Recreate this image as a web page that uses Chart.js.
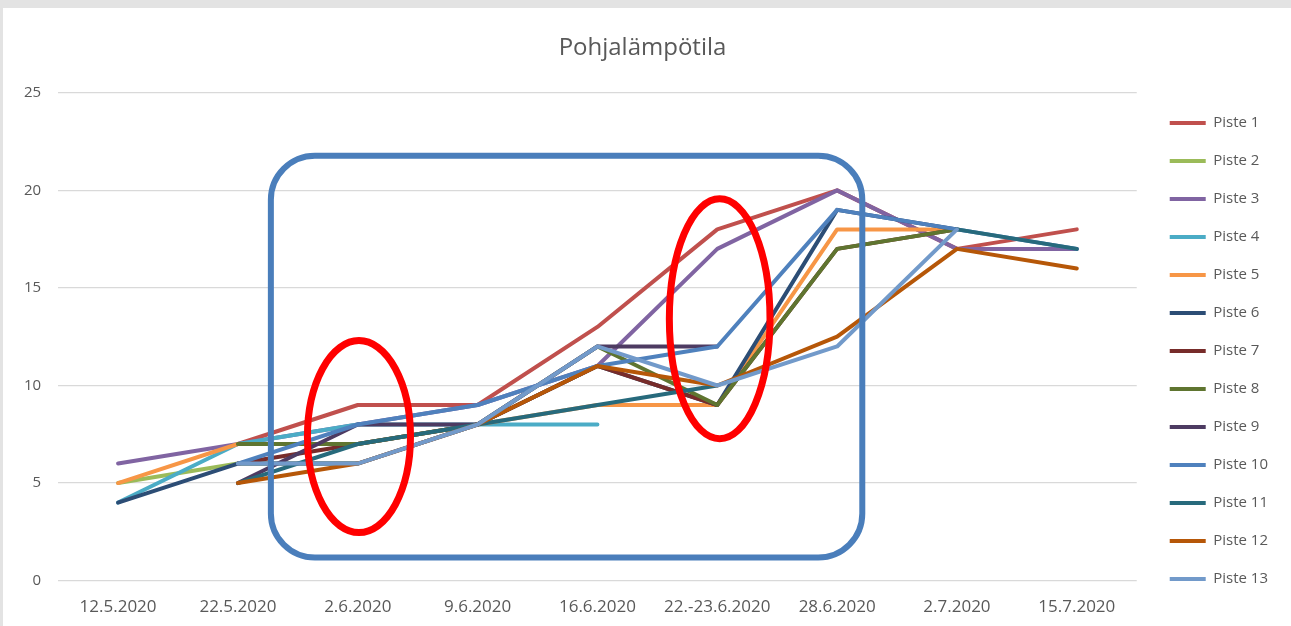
<!DOCTYPE html>
<html>
<head>
<meta charset="utf-8">
<script src="https://cdn.jsdelivr.net/npm/chart.js@4/dist/chart.umd.min.js"></script>
<style>
  html, body { margin: 0; padding: 0; background: #e3e3e3; }
  #frame { position: absolute; left: 3px; top: 8px; width: 1288px; height: 618px; background: #fff; }
</style>
</head>
<body>
<div id="frame"><canvas id="chart" width="1288" height="618"></canvas></div>
<script>
/* Data */
const categories = ['12.5.2020', '22.5.2020', '2.6.2020', '9.6.2020', '16.6.2020', '22.-23.6.2020', '28.6.2020', '2.7.2020', '15.7.2020'];
const seriesNames = ['Piste 1', 'Piste 2', 'Piste 3', 'Piste 4', 'Piste 5', 'Piste 6', 'Piste 7', 'Piste 8', 'Piste 9', 'Piste 10', 'Piste 11', 'Piste 12', 'Piste 13'];
const piste1 = [null, 7, 9, 9, 13, 18, 20, 17, 18];
const piste2 = [5, 6, 6, null, null, null, null, null, null];
const piste3 = [6, 7, 8, 9, 11, 17, 20, 17, 17];
const piste4 = [4, 7, 8, 8, 8, null, null, null, null];
const piste5 = [5, 7, 7, 8, 9, 9, 18, 18, null];
const piste6 = [4, 6, 6, 8, 11, 9, 19, 18, null];
const piste7 = [null, 6, 7, 8, 11, 9, 17, 18, null];
const piste8 = [null, 7, 7, 8, 12, 9, 17, 18, null];
const piste9 = [null, 5, 8, 8, 12, 12, null, null, null];
const piste10 = [null, 6, 8, 9, 11, 12, 19, 18, 17];
const piste11 = [null, 5, 7, 8, 9, 10, null, 18, 17];
const piste12 = [null, 5, 6, 8, 11, 10, 12.5, 17, 16];
const piste13 = [null, 6, 6, 8, 12, 10, 12, 18, null];
const yTicks = [0, 5, 10, 15, 20, 25];

/* Merkinnät (kategoria-indeksi / arvo) */
const boxX = [1.275, 6.21];
const boxY = [1.18, 21.77];
const ellipse1 = [2.01, 7.38, 0.43, 4.92];
const ellipse2 = [5.02, 13.42, 0.42, 6.15];

const colors = ['#C0504D', '#9BBB59', '#8064A2', '#4BACC6', '#F79646', '#2C4D75', '#772C2A', '#5F7530', '#4D3B62', '#4F81BD', '#276A7C', '#B65708', '#729ACA'];
const values = [piste1, piste2, piste3, piste4, piste5, piste6, piste7, piste8, piste9, piste10, piste11, piste12, piste13];

const FONT = '"Open Sans", "Noto Sans", sans-serif';

const annotations = {
  id: 'annotations',
  afterDatasetsDraw(chart) {
    const { ctx, scales: { x, y } } = chart;
    ctx.save();
    // sininen laatikko
    const x0 = x.getPixelForValue(boxX[0]), x1 = x.getPixelForValue(boxX[1]);
    const y0 = y.getPixelForValue(boxY[1]), y1 = y.getPixelForValue(boxY[0]);
    ctx.beginPath();
    ctx.roundRect(x0, y0, x1 - x0, y1 - y0, 44);
    ctx.lineWidth = 6;
    ctx.strokeStyle = '#4A7EBB';
    ctx.stroke();
    // punaiset ellipsit
    [ellipse1, ellipse2].forEach(e => {
      const cx = x.getPixelForValue(e[0]);
      const cy = y.getPixelForValue(e[1]);
      const rx = Math.abs(x.getPixelForValue(e[0] + e[2]) - cx);
      const ry = Math.abs(y.getPixelForValue(e[1] + e[3]) - cy);
      ctx.beginPath();
      ctx.ellipse(cx, cy, rx, ry, 0, 0, Math.PI * 2);
      ctx.lineWidth = 7;
      ctx.strokeStyle = '#FF0000';
      ctx.stroke();
    });
    ctx.restore();
  }
};

new Chart(document.getElementById('chart').getContext('2d'), {
  type: 'line',
  data: {
    labels: categories,
    datasets: seriesNames.map((name, i) => ({
      label: name,
      data: values[i],
      borderColor: colors[i],
      backgroundColor: colors[i],
      borderWidth: 4,
      borderCapStyle: 'round',
      borderJoinStyle: 'round',
      pointRadius: 0,
      pointHoverRadius: 0,
      spanGaps: false,
      tension: 0,
      order: seriesNames.length - i
    }))
  },
  options: {
    responsive: false,
    animation: false,
    layout: { padding: { left: 4, right: 13, bottom: -7 } },
    plugins: {
      title: {
        display: true,
        text: 'Pohjalämpötila',
        color: '#595959',
        font: { family: FONT, size: 24, weight: 'normal' },
        padding: { top: 26, bottom: 30 }
      },
      legend: {
        position: 'right',
        align: 'start',
        title: { display: true, text: ' ', font: { size: 12 }, padding: { top: 70, bottom: 0 } },
        labels: {
          sort: (a, b) => a.datasetIndex - b.datasetIndex,
          usePointStyle: true,
          pointStyle: 'line',
          pointStyleWidth: 36,
          color: '#595959',
          font: { family: FONT, size: 15 },
          padding: 23
        }
      },
      tooltip: { enabled: false }
    },
    scales: {
      x: {
        offset: true,
        grid: { display: false, drawTicks: false },
        border: { display: false },
        ticks: { color: '#595959', font: { family: FONT, size: 17 }, padding: 16, maxRotation: 0 }
      },
      y: {
        min: 0,
        max: 25,
        afterBuildTicks: s => { s.ticks = yTicks.map(v => ({ value: v })); },
        grid: { color: '#D9D9D9', lineWidth: 1.3, drawTicks: false },
        border: { display: false },
        ticks: { color: '#595959', font: { family: FONT, size: 15 }, padding: 17 }
      },
      gap: {
        position: 'right',
        min: 0,
        max: 1,
        grid: { display: false, drawTicks: false },
        border: { display: false },
        ticks: { display: false },
        afterFit: s => { s.width = 10; }
      }
    }
  },
  plugins: [annotations]
});
</script>
</body>
</html>
